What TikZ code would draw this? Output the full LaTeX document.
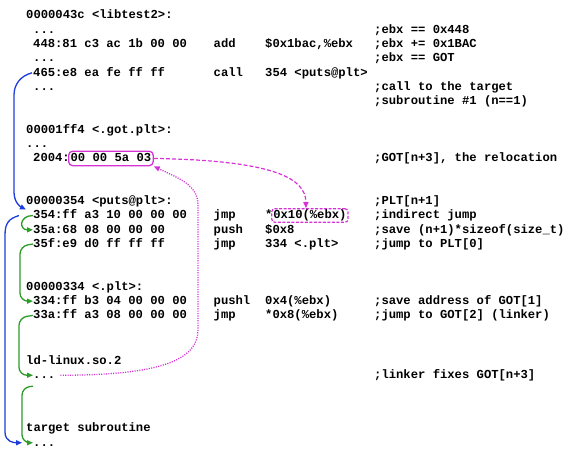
\documentclass[tikz,border=0pt]{standalone}
\usepackage{fontspec}
\setmainfont{Liberation Mono}
\usetikzlibrary{positioning,arrows.meta}
\definecolor{callblue}{RGB}{30,60,220}
\definecolor{jmpgreen}{RGB}{45,155,40}
\definecolor{relocpink}{RGB}{215,50,215}

\begin{document}
\begin{tikzpicture}[x=1pt, y=-1pt,
    code/.style={anchor=base west, inner sep=0pt, text height=8.5pt, text depth=2pt, font=\bfseries\fontsize{12.2}{14}\selectfont},
    gotbox/.style={code, draw=relocpink, line width=1.3pt, rounded corners=4pt, inner sep=2pt},
    slotbox/.style={code, draw=relocpink, line width=1.2pt, dash pattern=on 3pt off 1.5pt, rounded corners=3pt, inner sep=1.5pt},
    callarrow/.style={draw=callblue, line width=1.3pt, -{Triangle[length=6pt,width=5pt]}},
    jmparrow/.style={draw=jmpgreen, line width=1.3pt, -{Triangle[length=6pt,width=5pt]}},
    patcharrow/.style={draw=relocpink, line width=1.2pt, dash pattern=on 4pt off 2pt, -{Triangle[length=6pt,width=5pt]}},
    fixarrow/.style={draw=relocpink, line width=1.3pt, dash pattern=on 1.1pt off 1.3pt, -{Triangle[length=6pt,width=5pt]}}]
    \useasboundingbox (0,0) rectangle (576,457);

    \node[code] (hlib) at (26,19) {0000043c <libtest2>:};
    \node[code] (d1) at (33,33.3) {...};
    \node[code] (l448) at (33,47.5) {448:81 c3 ac 1b 00 00};
    \node[code] (m448) at (213.5,47.5) {add};
    \node[code] (o448) at (265,47.5) {\$0x1bac,\%ebx};
    \node[code] (ebxa) at (374,33.3) {;ebx == 0x448};
    \node[code] (ebxb) at (374,47.5) {;ebx += 0x1BAC};
    \node[code] (ebxc) at (374,61.8) {;ebx == GOT};
    \node[code] (d2) at (33,61.8) {...};
    \node[code] (l465) at (33,76.1) {465:e8 ea fe ff ff};
    \node[code] (m465) at (213.5,76.1) {call};
    \node[code] (o465) at (265,76.1) {354 <puts@plt>};
    \node[code] (d3) at (33,90.4) {...};
    \node[code] (callcmt) at (374,90.4) {;call to the target};
    \node[code] (subcmt) at (374,104.6) {;subroutine \#1 (n==1)};

    \node[code] (hgot) at (26,133.2) {00001ff4 <.got.plt>:};
    \node[code] (d4) at (26,147.4) {...};
    \node[code] (a2004) at (33,161.7) {2004:};
    \node[gotbox, right=-2pt of a2004] (got) {00 00 5a 03};
    \node[code] (relcmt) at (374,161.7) {;GOT[n+3], the relocation};

    \node[code] (hputs) at (26,204.5) {00000354 <puts@plt>:};
    \node[code] (pltcmt) at (374,204.5) {;PLT[n+1]};
    \node[code] (l354) at (33,218.8) {354:ff a3 10 00 00 00};
    \node[code] (m354) at (213.5,218.8) {jmp};
    \node[code] (star) at (265,218.8) {*};
    \node[slotbox, right=-1.5pt of star] (slot) {0x10(\%ebx)};
    \node[code] (indcmt) at (374,218.8) {;indirect jump};
    \node[code] (l35a) at (33,233.1) {35a:68 08 00 00 00};
    \node[code] (m35a) at (213.5,233.1) {push};
    \node[code] (o35a) at (265,233.1) {\$0x8};
    \node[code] (savecmt) at (374,233.1) {;save (n+1)*sizeof(size\_t)};
    \node[code] (l35f) at (33,247.3) {35f:e9 d0 ff ff ff};
    \node[code] (m35f) at (213.5,247.3) {jmp};
    \node[code] (o35f) at (265,247.3) {334 <.plt>};
    \node[code] (jmpcmt) at (374,247.3) {;jump to PLT[0]};

    \node[code] (hplt) at (26,290.1) {00000334 <.plt>:};
    \node[code] (l334) at (33,304.4) {334:ff b3 04 00 00 00};
    \node[code] (m334) at (213.5,304.4) {pushl};
    \node[code] (o334) at (265,304.4) {0x4(\%ebx)};
    \node[code] (gotcmt) at (374,304.4) {;save address of GOT[1]};
    \node[code] (l33a) at (33,318.7) {33a:ff a3 08 00 00 00};
    \node[code] (m33a) at (213.5,318.7) {jmp};
    \node[code] (o33a) at (265,318.7) {*0x8(\%ebx)};
    \node[code] (lnkcmt) at (374,318.7) {;jump to GOT[2] (linker)};

    \node[code] (hld) at (26,364.5) {ld-linux.so.2};
    \node[code] (d5) at (33,378.5) {...};
    \node[code] (fixcmt) at (374,378) {;linker fixes GOT[n+3]};

    \node[code] (htarget) at (26,431.5) {target subroutine};
    \node[code] (d6) at (33,446) {...};

    \draw[callarrow] ([xshift=-1pt]l465.west) .. controls +(-12,3) and +(0,-10) .. (14,95) -- (14,192) .. controls +(0,10) and +(-6,-3) .. ([xshift=-7pt,yshift=6pt]l354.west);
    \draw[callarrow] ([xshift=-14pt]l354.west) .. controls +(-10,3) and +(0,-12) .. (5,235) -- (5,432) .. controls +(0,10) and +(-8,0) .. ([xshift=-11pt]d6.west);

    \draw[jmparrow] (l354.west) .. controls +(-14,0) and +(-14,0) .. (l35a.west);
    \draw[jmparrow, rounded corners=8pt] (l35f.west) -- ++(-13,2) |- (l334.west);
    \draw[jmparrow, rounded corners=8pt] (l33a.west) -- ++(-14,2) |- (d5.west);
    \draw[jmparrow, rounded corners=8pt] ([yshift=-11pt]d5.west) -- ++(-11,1) |- (d6.west);

    \draw[patcharrow] (got.east) .. controls +(120,2) and +(0,-30) .. ([xshift=-4pt]slot.north);
    \draw[fixarrow] ([xshift=5pt]d5.east) .. controls +(100,0) and +(0,30) .. (198,330) -- (198,205) .. controls +(0,-20) and +(25,12) .. (got.south east);
\end{tikzpicture}
\end{document}
